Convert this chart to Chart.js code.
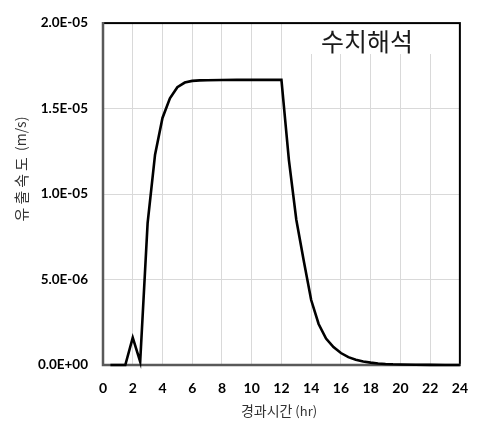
<!DOCTYPE html>
<html>
<head>
<meta charset="utf-8">
<script src="https://cdn.jsdelivr.net/npm/chart.js@4/dist/chart.umd.min.js"></script>
<style>
html,body{margin:0;padding:0;background:#fff;}
#wrap{width:483px;height:421px;}
</style>
</head>
<body>
<div id="wrap"><canvas id="c" width="483" height="421"></canvas></div>
<script>
// ---- data ----
const hours = [0.5, 1, 1.5, 2, 2.5, 3, 3.5, 4, 4.5, 5, 5.5, 6, 6.5, 7, 8, 9, 10, 11, 12,
  12.5, 13, 13.5, 14, 14.5, 15, 15.5, 16, 16.5, 17, 17.5, 18, 18.5, 19, 19.5, 20, 21, 22, 23, 24];
const outflow = [0, 0, 0, 1.6e-6, 1.9e-7, 8.3e-6, 1.23e-5, 1.445e-5, 1.56e-5, 1.625e-5, 1.652e-5, 1.662e-5, 1.665e-5, 1.666e-5, 1.667e-5, 1.668e-5, 1.668e-5, 1.668e-5, 1.668e-5,
  1.2e-5, 8.5e-6, 6.1e-6, 3.8e-6, 2.4e-6, 1.55e-6, 1.05e-6, 7.0e-7, 4.6e-7, 3.1e-7, 2.1e-7, 1.4e-7, 9e-8, 6e-8, 4e-8, 3e-8, 1.5e-8, 8e-9, 4e-9, 2e-9];
const xTicks = [0, 2, 4, 6, 8, 10, 12, 14, 16, 18, 20, 22, 24];
const yTicks = [0, 5e-6, 1e-5, 1.5e-5, 2e-5];
const chartLabel = '수치해석';
const xTitle = ['경과시간', ' (hr)'];
const yTitle = ['유출속도', ' (m/s)'];

function sci(v) {
  if (Math.abs(v) < 1e-20) return '0.0E+00';
  const s = Number(v).toExponential(1);
  const [m, e] = s.split('e');
  const n = parseInt(e, 10);
  return m + 'E' + (n < 0 ? '-' : '+') + String(Math.abs(n)).padStart(2, '0');
}

const KR = '"Noto Sans CJK KR", "Noto Sans", sans-serif';

const decor = {
  id: 'decor',
  beforeDatasetsDraw(chart) {
    const ctx = chart.ctx, a = chart.chartArea;
    ctx.save();
    // label box (hides grid lines behind the text)
    ctx.fillStyle = '#fff';
    ctx.fillRect(288, a.top + 1, a.right - 289, 53 - a.top);
    ctx.fillStyle = '#1a1a1a';
    ctx.font = '25px ' + KR;
    ctx.textAlign = 'center';
    ctx.textBaseline = 'middle';
    ctx.fillText(chartLabel, 367, 41);
    // plot frame
    ctx.strokeStyle = '#000';
    ctx.lineWidth = 2;
    ctx.strokeRect(a.left, a.top, a.right - a.left, a.bottom - a.top);
    ctx.strokeStyle = '#595959';
    ctx.lineWidth = 2.5;
    ctx.beginPath();
    ctx.moveTo(a.left, a.top - 1);
    ctx.lineTo(a.left, a.bottom);
    ctx.lineTo(a.right + 1, a.bottom);
    ctx.stroke();
    ctx.restore();
  },
  afterDraw(chart) {
    const ctx = chart.ctx;
    ctx.save();
    ctx.fillStyle = '#333';
    ctx.textBaseline = 'middle';
    // x title
    ctx.font = '14px ' + KR;
    const w1 = ctx.measureText(xTitle[0]).width;
    ctx.font = '13px ' + KR;
    const w2 = ctx.measureText(xTitle[1]).width;
    let x0 = 279 - (w1 + w2) / 2;
    ctx.textAlign = 'left';
    ctx.font = '14px ' + KR;
    ctx.fillText(xTitle[0], x0, 411);
    ctx.font = '13px ' + KR;
    ctx.fillText(xTitle[1], x0 + w1, 411);
    // y title (rotated)
    ctx.translate(21, 169);
    ctx.rotate(-Math.PI / 2);
    ctx.font = '15px ' + KR;
    try { ctx.letterSpacing = '3px'; } catch (e) {}
    const y1 = ctx.measureText(yTitle[0]).width;
    try { ctx.letterSpacing = '0px'; } catch (e) {}
    ctx.font = '14px ' + KR;
    const y2 = ctx.measureText(yTitle[1]).width;
    const s0 = -(y1 + y2) / 2;
    ctx.font = '15px ' + KR;
    try { ctx.letterSpacing = '3px'; } catch (e) {}
    ctx.fillText(yTitle[0], s0, 0);
    try { ctx.letterSpacing = '0px'; } catch (e) {}
    ctx.font = '14px ' + KR;
    ctx.fillText(yTitle[1], s0 + y1, 0);
    ctx.restore();
  }
};

new Chart(document.getElementById('c'), {
  type: 'scatter',
  data: {
    datasets: [{
      data: hours.map((h, i) => ({ x: h, y: outflow[i] })),
      showLine: true,
      borderColor: '#000',
      borderWidth: 2.6,
      pointRadius: 0,
      tension: 0,
      clip: false
    }]
  },
  options: {
    responsive: false,
    devicePixelRatio: 1,
    animation: false,
    layout: { padding: { top: 17, right: 19, left: 0, bottom: 0 } },
    plugins: { legend: { display: false }, tooltip: { enabled: false } },
    scales: {
      x: {
        type: 'linear',
        min: 0, max: 24,
        afterBuildTicks: s => { s.ticks = xTicks.map(v => ({ value: v })); },
        afterFit: s => { s.height = 56; },
        grid: { color: '#d9d9d9', lineWidth: 1, drawTicks: false },
        border: { display: false },
        ticks: {
          color: '#000', padding: 15, maxRotation: 0, autoSkip: false,
          font: { family: 'Lato', weight: 'bold', size: 14 },
          callback: v => String(v)
        }
      },
      y: {
        type: 'linear',
        min: 0, max: 2e-5,
        afterBuildTicks: s => { s.ticks = yTicks.map(v => ({ value: v })); },
        afterFit: s => { s.width = 103; },
        grid: { color: '#d9d9d9', lineWidth: 1, drawTicks: false },
        border: { display: false },
        ticks: {
          color: '#000', padding: 15, autoSkip: false,
          font: { family: 'Lato', weight: 'bold', size: 13.5 },
          callback: v => sci(v)
        }
      }
    }
  },
  plugins: [decor]
});
</script>
</body>
</html>
